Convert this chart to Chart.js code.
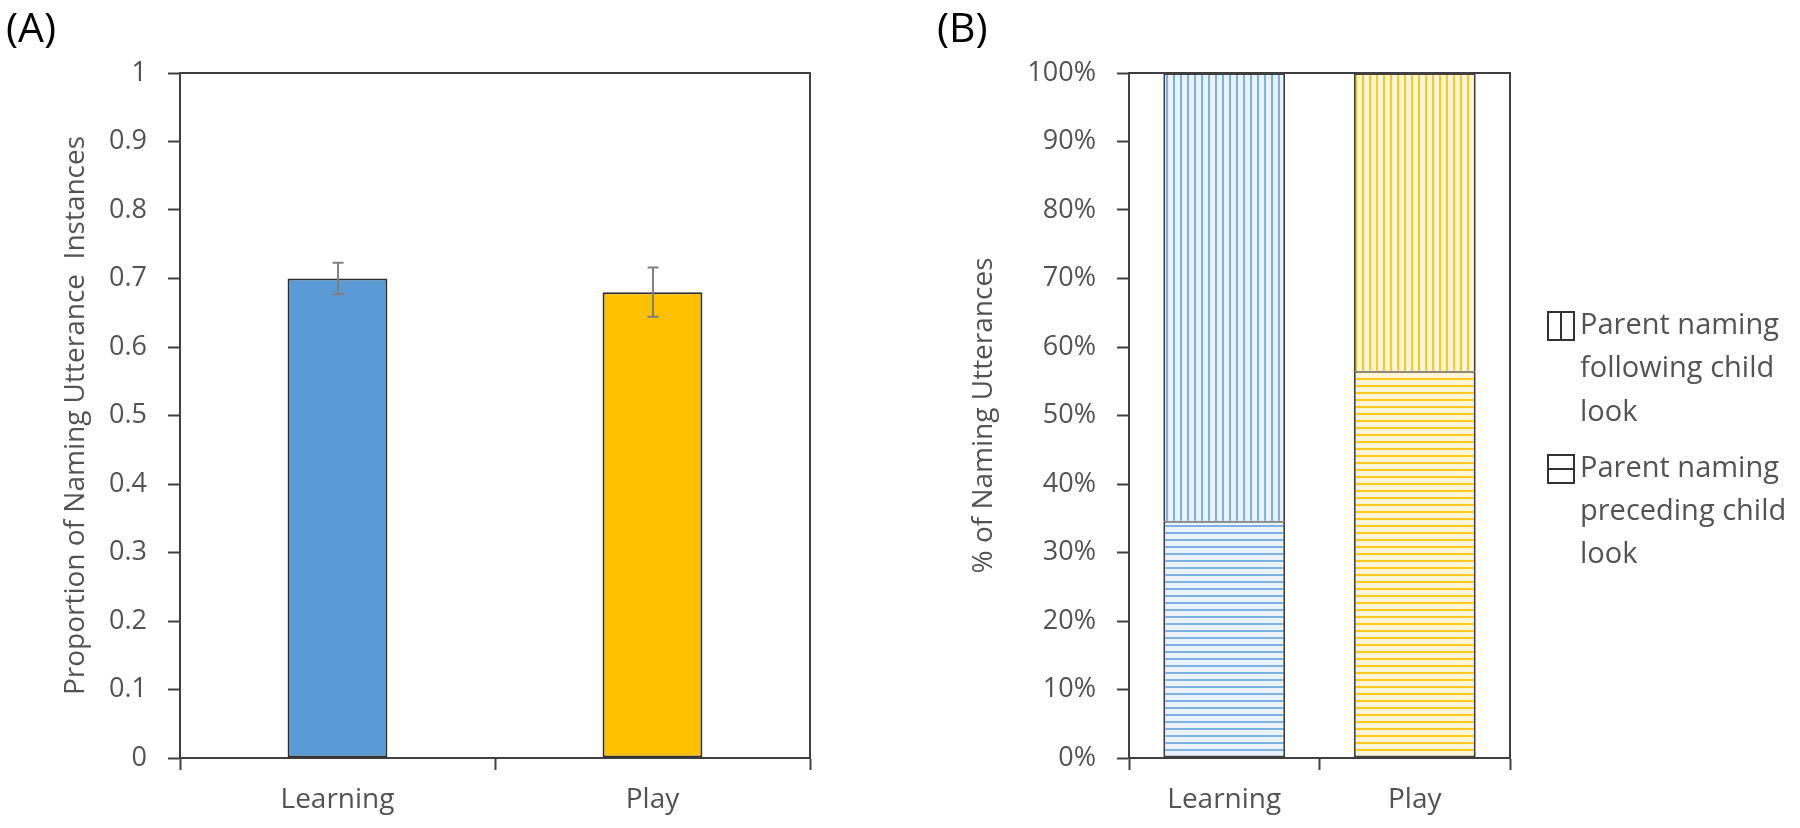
<!DOCTYPE html>
<html>
<head>
<meta charset="utf-8">
<script src="https://cdn.jsdelivr.net/npm/chart.js@4.4.1/dist/chart.umd.min.js"></script>
<style>
  html, body { margin: 0; padding: 0; background: #ffffff; }
  #wrap { position: relative; width: 1800px; height: 828px; overflow: hidden; font-family: "Open Sans", sans-serif; }
  #cA { position: absolute; left: 0; top: 0; }
  #cB { position: absolute; left: 900px; top: 0; }
  .panel { position: absolute; top: -2px; font-size: 41px; color: #000; line-height: 56px; }
  #legendB { position: absolute; left: 1547px; top: 301px; color: #535353; font-size: 29px; line-height: 43.3px; }
  .lg { position: relative; padding-left: 33px; width: 220px; margin-bottom: 13px; }
  .box { position: absolute; left: 0; top: 10px; width: 24px; height: 26px; border: 2px solid #333; }
  .box.v::after { content: ""; position: absolute; left: 11px; top: 0; width: 2px; height: 26px; background: #333; }
  .box.h::after { content: ""; position: absolute; left: 0; top: 12px; width: 24px; height: 2px; background: #333; }
</style>
</head>
<body>
<div id="wrap">
  <canvas id="cA" width="900" height="828"></canvas>
  <canvas id="cB" width="900" height="828"></canvas>
  <div class="panel" style="left:6px;">(A)</div>
  <div class="panel" style="left:937px;">(B)</div>
  <div id="legendB"></div>
</div>
<script>
// ---------- data ----------
const categories = ['Learning', 'Play'];
const proportionMeans = [0.70, 0.68];
const proportionErrors = [0.023, 0.036];
const followingPct = [65.5, 43.6];
const precedingPct = [34.5, 56.4];
const legendLabels = ['Parent naming following child look', 'Parent naming preceding child look'];
const titleA = 'Proportion of Naming Utterance  Instances';
const titleB = '% of Naming Utterances';

// ---------- styles ----------
const AXIS = '#404040';
const TICKTXT = '#535353';
const FONT = '"Open Sans", sans-serif';
const blue = '#5B9BD5', gold = '#FFC000';

function stripe(dir, line, bg) {
  const t = document.createElement('canvas');
  t.width = 7; t.height = 7;
  const c = t.getContext('2d');
  c.fillStyle = bg; c.fillRect(0, 0, 7, 7);
  c.fillStyle = line;
  if (dir === 'v') c.fillRect(0, 0, 2, 7); else c.fillRect(0, 0, 7, 2);
  return c.createPattern(t, 'repeat');
}

const boxPlugin = {
  id: 'box',
  afterDraw(chart) {
    const a = chart.chartArea, ctx = chart.ctx;
    ctx.save();
    ctx.strokeStyle = AXIS; ctx.lineWidth = 2;
    ctx.beginPath();
    ctx.moveTo(a.left, a.top); ctx.lineTo(a.right, a.top); ctx.lineTo(a.right, a.bottom);
    ctx.stroke();
    ctx.restore();
  }
};

const errPlugin = {
  id: 'err',
  afterDatasetsDraw(chart) {
    const meta = chart.getDatasetMeta(0), y = chart.scales.y, ctx = chart.ctx;
    ctx.save();
    ctx.strokeStyle = '#7f7f7f'; ctx.lineWidth = 2;
    meta.data.forEach((bar, i) => {
      const x = Math.round(bar.x);
      const t = y.getPixelForValue(proportionMeans[i] + proportionErrors[i]);
      const b = y.getPixelForValue(proportionMeans[i] - proportionErrors[i]);
      ctx.beginPath();
      ctx.moveTo(x, t); ctx.lineTo(x, b);
      ctx.moveTo(x - 5.5, t); ctx.lineTo(x + 5.5, t);
      ctx.moveTo(x - 5.5, b); ctx.lineTo(x + 5.5, b);
      ctx.stroke();
    });
    ctx.restore();
  }
};

function yScale(min, max, step, cb, title, titlePad, width) {
  return {
    min, max,
    ticks: { stepSize: step, color: TICKTXT, font: { family: FONT, size: 27 }, padding: 21, callback: cb },
    grid: { drawOnChartArea: false, tickLength: 12, tickWidth: 2, tickColor: AXIS },
    border: { display: true, color: AXIS, width: 2 },
    title: { display: true, text: title, color: TICKTXT, font: { family: FONT, size: 28 }, padding: { top: titlePad, bottom: 0 } },
    afterFit: s => { s.width = width; }
  };
}
function xScale(stacked) {
  return {
    stacked,
    ticks: { color: TICKTXT, font: { family: FONT, size: 28 }, padding: 13 },
    grid: { offset: true, drawOnChartArea: false, tickLength: 12, tickWidth: 2, tickColor: AXIS },
    border: { display: true, color: AXIS, width: 2 },
    afterFit: s => { s.height = 70; }
  };
}

new Chart(document.getElementById('cA'), {
  type: 'bar',
  data: {
    labels: categories,
    datasets: [{
      data: proportionMeans,
      backgroundColor: [blue, gold],
      borderColor: '#2e2e2e', borderWidth: 2, borderSkipped: false,
      categoryPercentage: 1, barPercentage: 0.317
    }]
  },
  options: {
    responsive: false, animation: false, devicePixelRatio: 1,
    layout: { padding: { left: 0, right: 90, top: 73, bottom: 0 } },
    plugins: { legend: { display: false }, tooltip: { enabled: false } },
    scales: {
      x: xScale(false),
      y: yScale(0, 1, 0.1, v => String(+(+v).toFixed(1)), titleA, 59, 180)
    }
  },
  plugins: [boxPlugin, errPlugin]
});

new Chart(document.getElementById('cB'), {
  type: 'bar',
  data: {
    labels: categories,
    datasets: [
      {
        label: legendLabels[1], data: precedingPct,
        backgroundColor: [stripe('h', '#7eb1e2', '#eaf2fb'), stripe('h', '#ffc81f', '#fff5d8')],
        borderColor: '#404040', borderWidth: { left: 2, right: 2, bottom: 2, top: 1 }, borderSkipped: false,
        categoryPercentage: 1, barPercentage: 0.64
      },
      {
        label: legendLabels[0], data: followingPct,
        backgroundColor: [stripe('v', '#7eb1e2', '#eaf2fb'), stripe('v', '#ffc81f', '#fff5d8')],
        borderColor: '#404040', borderWidth: { left: 2, right: 2, bottom: 1, top: 2 }, borderSkipped: false,
        categoryPercentage: 1, barPercentage: 0.64
      }
    ]
  },
  options: {
    responsive: false, animation: false, devicePixelRatio: 1,
    layout: { padding: { left: 0, right: 290, top: 73, bottom: 0 } },
    plugins: { legend: { display: false }, tooltip: { enabled: false } },
    scales: {
      x: xScale(true),
      y: Object.assign(yScale(0, 100, 10, v => v + '%', titleB, 67, 229), { stacked: true })
    }
  },
  plugins: [boxPlugin]
});

// HTML legend (order as in the reference)
const lg = document.getElementById('legendB');
legendLabels.forEach((t, i) => {
  const d = document.createElement('div');
  d.className = 'lg';
  d.innerHTML = '<span class="box ' + (i === 0 ? 'v' : 'h') + '"></span>' + t;
  lg.appendChild(d);
});
</script>
</body>
</html>
